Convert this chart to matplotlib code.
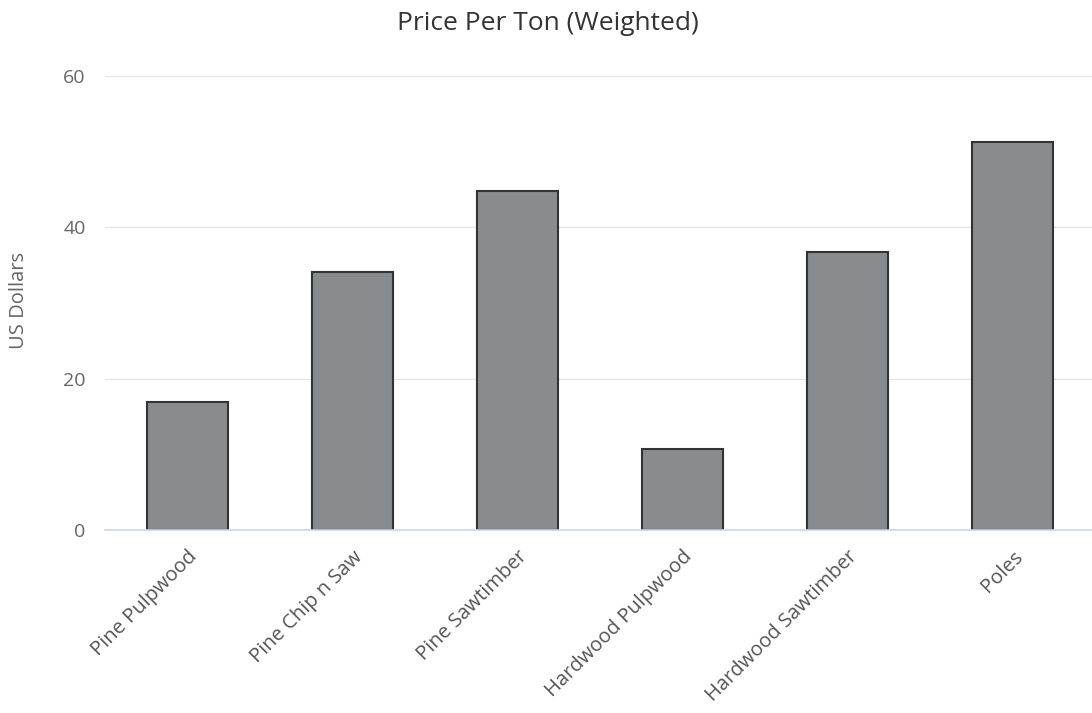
import matplotlib
matplotlib.use("Agg")
import matplotlib.pyplot as plt

categories = ["Pine Pulpwood", "Pine Chip n Saw", "Pine Sawtimber",
              "Hardwood Pulpwood", "Hardwood Sawtimber", "Poles"]
values = [16.9, 34.1, 44.8, 10.7, 36.8, 51.3]
yticks = [0, 20, 40, 60]

plt.rcParams['font.family'] = ['Open Sans', 'DejaVu Sans']

W, H = 1092, 713
fig = plt.figure(figsize=(W / 100, H / 100), dpi=100)
ax = fig.add_axes([105 / W, 1 - 530 / H, 990 / W, 454 / H])

x = list(range(len(categories)))
ax.bar(x, values, width=0.485, color="#8a8b8d", edgecolor="#333333",
       linewidth=1.5, zorder=3)

ax.set_xlim(-0.5, len(categories) - 0.5)
ax.set_ylim(0, 60)
ax.set_yticks(yticks)
ax.set_yticklabels([str(t) for t in yticks], fontsize=14, color="#666666")
ax.set_xticks(x)
ax.set_xticklabels(categories, rotation=45, ha="right", rotation_mode="anchor",
                   fontsize=14.5, color="#555555")
ax.tick_params(axis="x", length=0, pad=12)
ax.tick_params(axis="y", length=0, pad=14)

ax.grid(axis="y", color="#e6e6e6", linewidth=1, zorder=0)
for s in ["top", "right", "left"]:
    ax.spines[s].set_visible(False)
ax.spines["bottom"].set_color("#ccd6eb")
ax.spines["bottom"].set_linewidth(1.2)
ax.spines["bottom"].set_zorder(4)

fig.text(19 / W, 1 - 300 / H, "US Dollars", rotation=90, ha="center", va="center",
         fontsize=14.5, color="#666666")
fig.text(548 / W, 1 - 23 / H, "Price Per Ton (Weighted)", ha="center", va="center",
         fontsize=19, color="#333333")

fig.savefig("out.png", dpi=100)
